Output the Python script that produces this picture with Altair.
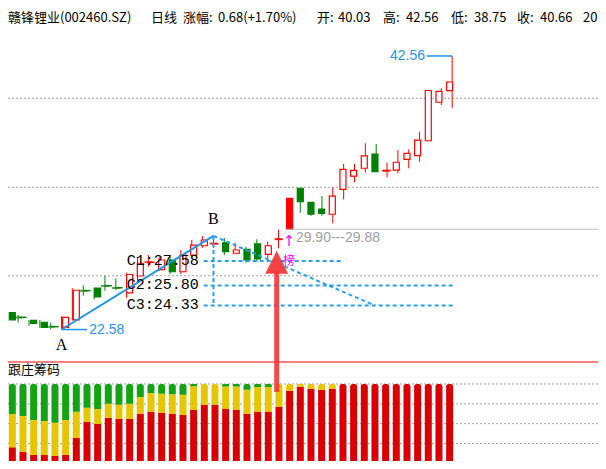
import altair as alt
import pandas as pd

W, H = 590, 453

# ---------------- data ----------------
opens  = [23.81, 23.48, 23.25, 23.11, 22.80, 22.74, 23.28, 25.43, 25.61, 25.79,
          25.64, 25.25, 26.49, 27.48, 26.95, 27.66, 26.80, 28.02, 28.70, 28.84,
          28.92, 28.15, 28.44, 28.83, 28.07, 29.16, 29.90, 32.90, 31.87, 31.38,
          31.00, 32.82, 33.79, 34.36, 35.40, 34.17, 34.23, 35.01, 35.28, 36.37,
          39.18, 40.03]
highs  = [24.37, 23.64, 23.27, 23.28, 23.08, 23.56, 25.59, 25.81, 25.63, 26.49,
          26.32, 26.73, 27.80, 28.02, 27.90, 27.95, 28.39, 29.12, 29.41, 29.42,
          29.27, 28.90, 28.63, 29.17, 29.00, 29.88, 32.17, 32.92, 31.89, 32.33,
          32.97, 34.67, 34.67, 36.18, 36.13, 34.78, 35.69, 35.74, 37.03, 40.04,
          40.20, 42.56]
lows   = [23.06, 23.08, 22.84, 22.70, 22.60, 22.58, 23.25, 25.05, 24.79, 25.42,
          25.47, 24.88, 26.20, 27.17, 26.85, 26.64, 26.64, 27.80, 28.54, 28.54,
          28.02, 28.12, 27.46, 27.53, 27.66, 28.51, 29.90, 31.11, 30.89, 30.89,
          30.34, 32.09, 33.33, 34.04, 34.08, 33.70, 33.99, 34.36, 34.84, 36.37,
          38.98, 38.75]
closes = [23.28, 23.46, 23.03, 22.74, 22.78, 23.47, 25.45, 25.41, 24.96, 25.77,
          25.62, 26.60, 27.42, 27.50, 27.66, 26.80, 28.02, 28.75, 29.12, 28.86,
          28.26, 28.39, 27.66, 27.73, 28.70, 29.18, 32.17, 31.92, 31.00, 31.07,
          32.33, 34.28, 34.21, 35.26, 34.11, 34.19, 34.80, 35.45, 36.42, 40.04,
          39.98, 40.66]
filled_up = [26]

# 跟庄筹码 (percent shares, bottom red / middle yellow / top green)
chip_red    = [20.2, 14.2, 10.5, 10.5, 9.2, 10.5, 31.9, 52.1, 49.6, 57.5,
               55.9, 55.9, 62.6, 65.1, 63.8, 62.6, 60.9, 67.2, 73.9, 73.9,
               68.5, 67.2, 62.6, 65.1, 65.1, 71.0, 91.6, 96.6, 93.7, 92.4,
               93.7, 100, 100, 100, 100, 100, 100, 100, 100, 100, 100, 100]
chip_yellow = [42.0, 45.4, 44.1, 42.8, 42.0, 44.1, 33.2, 18.0, 18.9, 17.7,
               18.0, 19.3, 21.0, 23.6, 24.0, 24.4, 25.6, 29.9, 26.1, 26.1,
               28.5, 29.8, 30.2, 31.2, 31.2, 29.0, 8.4, 3.4, 6.3, 7.6,
               6.3, 0, 0, 0, 0, 0, 0, 0, 0, 0, 0, 0]
chip_green  = [37.8, 40.4, 45.4, 46.7, 48.8, 45.4, 34.9, 29.9, 31.5, 24.8,
               26.1, 24.8, 16.4, 11.3, 12.2, 13.0, 13.5, 2.9, 0, 0,
               3.0, 3.0, 7.2, 3.7, 3.7, 0, 0, 0, 0, 0,
               0, 0, 0, 0, 0, 0, 0, 0, 0, 0, 0, 0]

grid_prices = [39.47, 32.97, 26.51]
sub_grid = [0, 25, 50, 75, 100]

a_idx, a_price = 5, 22.58
b_idx, b_price = 19, 29.42
c_names = ["C1", "C2", "C3"]
c_values = [27.58, 25.80, 24.33]
c_start = 18.1
c_end = [30.94, 41.08, 41.08]
diag_end_idx = 33.9
high_idx, high_price = 41, 42.56
gap_idx, gap_top, gap_bottom = 25.6, 29.90, 29.88
signal_idx = 25.96
arrow_idx = 24.83
arrow_head, arrow_tail = 27.49, 18.02

title_parts = ["赣锋锂业(002460.SZ)", "日线", "涨幅:", "0.68(+1.70%)", "开:", "40.03",
               "高:", "42.56", "低:", "38.75", "收:", "40.66", "202"]

# ---------------- tables ----------------
n = len(opens)
rows = []
for i in range(n):
    o, h, l, c = opens[i], highs[i], lows[i], closes[i]
    up = c >= o
    col = "#FF0000" if up else "#008000"
    fill = ("#FF0000" if i in filled_up else "#FFFFFF") if up else "#008000"
    rows.append(dict(i=i, o=o, h=h, l=l, c=c, col=col, fill=fill,
                     doji=abs(c - o) < 0.05))
cdf = pd.DataFrame(rows)

chip_rows = []
for i in range(n):
    parts = [(chip_red[i], "#D80000"), (chip_yellow[i], "#E6C600"), (chip_green[i], "#16A216")]
    parts = [p for p in parts if p[0] > 0]
    acc = 0.0
    for k, (val, col) in enumerate(parts):
        chip_rows.append(dict(i=i, v0=acc, v1=acc + val, col=col, top=(k == len(parts) - 1)))
        acc += val
chip_df = pd.DataFrame(chip_rows)

XD = [0.0645, 0.0645 + W / 10.85]
PD = [12.976, 46.066]
SD = [2.9, 574.15]
RIGHT_IDX = XD[1]


def X(f):
    return alt.X(f, type="quantitative", scale=alt.Scale(domain=XD, nice=False, zero=False), axis=None)


def YP(f):
    return alt.Y(f, type="quantitative", scale=alt.Scale(domain=PD, nice=False, zero=False), axis=None)


def YS(f):
    return alt.Y(f, type="quantitative", scale=alt.Scale(domain=SD, nice=False, zero=False), axis=None)


BLUE = "#1E96E2"
layers = []

# grids
layers.append(alt.Chart(pd.DataFrame({"p": grid_prices})).mark_rule(
    color="#A0A0A0", strokeDash=[2, 2], strokeWidth=1).encode(
    y=YP("p"), x=alt.value(0), x2=alt.value(W)))
layers.append(alt.Chart(pd.DataFrame({"v": sub_grid})).mark_rule(
    color="#A0A0A0", strokeDash=[2, 2], strokeWidth=1).encode(
    y=YS("v"), x=alt.value(0), x2=alt.value(W)))

# separator
layers.append(alt.Chart(pd.DataFrame({"a": [0]})).mark_rule(color="#FF0000", strokeWidth=1).encode(
    y=alt.value(354), x=alt.value(0), x2=alt.value(W)))

# chip bars (top segment rounded)
chips = alt.Chart(chip_df)
layers.append(chips.transform_filter("!datum.top").mark_bar(size=7).encode(
    x=X("i"), y=YS("v0"), y2="v1", color=alt.Color("col:N", scale=None)))
layers.append(chips.transform_filter("datum.top").mark_bar(
    size=7, cornerRadiusTopLeft=2.5, cornerRadiusTopRight=2.5).encode(
    x=X("i"), y=YS("v0"), y2="v1", color=alt.Color("col:N", scale=None)))

# candles
base = alt.Chart(cdf)
layers.append(base.mark_rule(strokeWidth=1).encode(
    x=X("i"), y=YP("l"), y2="h", color=alt.Color("col:N", scale=None)))
layers.append(base.mark_bar(size=6, strokeWidth=1.2).encode(
    x=X("i"), y=YP("o"), y2="c", fill=alt.Fill("fill:N", scale=None),
    stroke=alt.Stroke("col:N", scale=None)))
layers.append(base.transform_filter("datum.doji").mark_tick(
    orient="horizontal", size=8, thickness=2).encode(
    x=X("i"), y=YP("c"), color=alt.Color("col:N", scale=None)))

# gap line and text
layers.append(alt.Chart(pd.DataFrame({"x": [gap_idx], "x2": [RIGHT_IDX], "p": [gap_top]})).mark_rule(
    color="#BDBDBD", strokeWidth=1).encode(x=X("x"), x2="x2", y=YP("p")))
layers.append(alt.Chart(pd.DataFrame({"x": [gap_idx + 1.0], "p": [gap_top],
                                      "t": [f"{gap_top:.2f}---{gap_bottom:.2f}"]})).mark_text(
    font="Liberation Sans", fontSize=14, color="#A0A0A0", align="left", baseline="middle", dy=9).encode(
    x=X("x"), y=YP("p"), text="t"))

# A -> B line
layers.append(alt.Chart(pd.DataFrame({"x": [a_idx, b_idx], "p": [a_price, b_price]})).mark_line(
    color=BLUE, strokeWidth=2).encode(x=X("x"), y=YP("p")))

# dashed construction lines
seg = pd.DataFrame({
    "x":  [b_idx, b_idx] + [c_start] * 3,
    "x2": [diag_end_idx, b_idx] + c_end,
    "p":  [b_price, b_price] + c_values,
    "p2": [c_values[2], c_values[2]] + c_values,
})
layers.append(alt.Chart(seg).mark_rule(color="#2AA0EA", strokeWidth=2, strokeDash=[4, 3]).encode(
    x=X("x"), x2="x2", y=YP("p"), y2="p2"))

# value markers 22.58 and 42.56
mk = pd.DataFrame({"x": [a_idx, 38.65], "x2": [7.37, high_idx], "p": [a_price, high_price]})
layers.append(alt.Chart(mk).mark_rule(color=BLUE, strokeWidth=1.5).encode(
    x=X("x"), x2="x2", y=YP("p")))
layers.append(alt.Chart(pd.DataFrame({"x": [7.56], "p": [a_price], "t": [f"{a_price:.2f}"]})).mark_text(
    font="Liberation Sans", fontSize=14, color="#2F8FE8", align="left", baseline="middle").encode(
    x=X("x"), y=YP("p"), text="t"))
layers.append(alt.Chart(pd.DataFrame({"x": [38.5], "p": [high_price], "t": [f"{high_price:.2f}"]})).mark_text(
    font="Liberation Sans", fontSize=14, color="#2F8FE8", align="right", baseline="middle").encode(
    x=X("x"), y=YP("p"), text="t"))

# A / B labels
layers.append(alt.Chart(pd.DataFrame({"x": [a_idx], "p": [a_price], "t": ["A"]})).mark_text(
    font="Liberation Serif", fontSize=16, color="#000000", align="center", baseline="middle", dy=15).encode(
    x=X("x"), y=YP("p"), text="t"))
layers.append(alt.Chart(pd.DataFrame({"x": [b_idx], "p": [b_price], "t": ["B"]})).mark_text(
    font="Liberation Serif", fontSize=16, color="#000000", align="center", baseline="middle", dy=-17).encode(
    x=X("x"), y=YP("p"), text="t"))

# C labels
layers.append(alt.Chart(pd.DataFrame({"x": [11.0] * 3, "p": c_values,
                                      "t": [f"{a}:{b:.2f}" for a, b in zip(c_names, c_values)]})).mark_text(
    font="Liberation Mono", fontSize=15, color="#000000", align="left", baseline="middle", dy=-1.5).encode(
    x=X("x"), y=YP("p"), text="t"))

# signal marks
layers.append(alt.Chart(pd.DataFrame({"x": [signal_idx], "p": [gap_top], "t": ["↑"]})).mark_text(
    font="DejaVu Sans", fontSize=15, color="#FF00FF", align="center", baseline="middle", dy=12).encode(
    x=X("x"), y=YP("p"), text="t"))
layers.append(alt.Chart(pd.DataFrame({"x": [signal_idx], "p": [gap_top], "t": ["榜"]})).mark_text(
    font="Noto Sans CJK SC", fontSize=12, color="#FF00FF", align="center", baseline="middle", dy=32).encode(
    x=X("x"), y=YP("p"), text="t"))

# big red arrow
layers.append(alt.Chart(pd.DataFrame({"x": [arrow_idx], "p": [26.9], "p2": [arrow_tail]})).mark_rule(
    color="#F23A3A", strokeWidth=5, opacity=0.92).encode(x=X("x"), y=YP("p"), y2="p2"))
layers.append(alt.Chart(pd.DataFrame({"x": [arrow_idx], "p": [arrow_head]})).mark_point(
    shape="M0,-1L1,1L-1,1Z", size=529, filled=True, color="#F23A3A", opacity=0.95).encode(
    x=X("x"), y=YP("p")))

# title line and sub-panel title
title_df = pd.DataFrame({"t": title_parts,
                         "px": [0, 143, 175, 210, 309, 330, 375, 398, 443, 466, 509, 532, 575]})
layers.append(alt.Chart(title_df).mark_text(
    font="Noto Sans CJK SC", fontSize=13, color="#000000", align="left", baseline="middle").encode(
    x=alt.X("px:Q", scale=None, axis=None), y=alt.value(10), text="t"))
layers.append(alt.Chart(pd.DataFrame({"t": ["跟庄筹码"]})).mark_text(
    font="Noto Sans CJK SC", fontSize=13, color="#000000", align="left", baseline="middle").encode(
    x=alt.value(0), y=alt.value(362), text="t"))

chart = alt.layer(*layers).resolve_scale(y="independent", x="independent").properties(
    width=W, height=H, padding=0, autosize=alt.AutoSizeParams(type="none"),
    background="#FFFFFF").configure_view(stroke=None)

chart.save("out.html", embed_options={"renderer": "svg", "actions": False})
